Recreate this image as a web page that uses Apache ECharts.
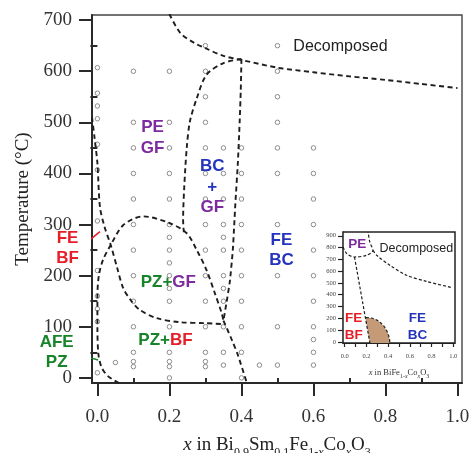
<!DOCTYPE html>
<html>
<head>
<meta charset="utf-8">
<script src="https://cdn.jsdelivr.net/npm/echarts@6/dist/echarts.min.js"></script>
<style>
  html, body { margin: 0; padding: 0; background: #fff; }
  #chart { width: 469px; height: 453px; }
</style>
</head>
<body>
<div id="chart"></div>
<script>
// measured compositions (x) and the temperatures checked at each one
var colX = [0, 0.05, 0.1, 0.2, 0.3, 0.35, 0.4, 0.45, 0.5, 0.6];
var colTemps = [
    [607, 557, 532, 507, 457, 407, 307, 210, 160, 135, 110, 10],
    [30],
    [600, 500, 450, 400, 350, 300, 250, 200, 150, 100, 50, 32, 22],
    [600, 500, 450, 400, 350, 300, 275, 250, 225, 200, 175, 150, 100, 50, 32, 22, 0],
    [650, 600, 550, 500, 450, 400, 350, 300, 250, 200, 150, 100, 50, 32, 22],
    [450, 400, 350, 300, 275, 250, 200, 175, 150, 100, 50, 25],
    [450, 400, 350, 300, 250, 200, 150, 100, 50, 0],
    [25],
    [650, 600, 550, 500, 450, 400, 300, 200, 100, 25],
    [450, 400, 350, 300, 250, 200, 150, 100, 75, 50, 25]
];

// phase boundaries (dashed)
var decompX = [0.2, 0.23, 0.27, 0.3, 0.35, 0.4, 0.5, 0.6, 0.7, 0.8, 0.9, 1.0];
var decompY = [712, 675, 655, 645, 630, 622, 607, 598, 590, 583, 575, 567];
var bcLeftX = [0.4, 0.35, 0.303, 0.276, 0.257, 0.248, 0.241, 0.238, 0.24];
var bcLeftY = [624, 616, 593, 547, 502, 449, 371, 309, 285];
var bcRightX = [0.4, 0.398, 0.395, 0.39, 0.383, 0.38, 0.376, 0.368, 0.358, 0.35];
var bcRightY = [624, 560, 500, 420, 340, 300, 250, 190, 145, 112];
var feEdgeX = [-0.015, -0.008, 0, 0.007, 0.02, 0.037, 0.055, 0.072, 0.095, 0.118, 0.164, 0.229, 0.3, 0.35];
var feEdgeY = [510, 470, 420, 335, 295, 260, 215, 175, 150, 133, 117, 109, 107, 105];
var domeX = [0.06, 0.03, 0.012, 0.003, 0, 0, 0.004, 0.015, 0.037, 0.072, 0.127, 0.2, 0.248, 0.276, 0.303, 0.326, 0.345, 0.35];
var domeY = [-10, 3, 20, 45, 100, 160, 200, 230, 260, 299, 316, 303, 283, 250, 211, 166, 127, 112];
var tailX = [0.35, 0.37, 0.39, 0.415];
var tailY = [112, 80, 45, -10];

// leader lines for the labels outside the frame
var feLeadX = [-0.044, 0.007];
var feLeadY = [257, 286];
var afeLeadX = [-0.0625, 0.002];
var afeLeadY = [48, 35];

// ticks
var xMajor = [0, 0.2, 0.4, 0.6, 0.8, 1.0];
var xMinor = [0.1, 0.3, 0.5, 0.7, 0.9];
var yMajor = [0, 100, 200, 300, 400, 500, 600, 700];
var yMinor = [50, 150, 250, 350, 450, 550, 650];

// inset: BiFe1-xCoxO3
var inPeX = [-0.016, 0.02, 0.09, 0.2, 0.26, 0.231, 0.215];
var inPeY = [805, 748, 720, 734, 776, 847, 932];
var inDecX = [0.26, 0.3, 0.415, 0.57, 0.755, 0.985];
var inDecY = [776, 730, 650, 565, 512, 461];
var inFeX = [0.09, 0.232];
var inFeY = [720, -10];
var inArcX = [0.195, 0.24, 0.29, 0.33, 0.365, 0.39, 0.405, 0.413, 0.415];
var inArcY = [206, 202, 188, 163, 128, 88, 50, 20, -10];
var inXTicks = [0, 0.1, 0.2, 0.3, 0.4, 0.5, 0.6, 0.7, 0.8, 0.9, 1.0];
var inXLabels = [0, 0.2, 0.4, 0.6, 0.8, 1.0];
var inYTicks = [0, 100, 200, 300, 400, 500, 600, 700, 800, 900];

// region labels
var mainLabels = [
    {at: [0.675, 648], text: '{k|Decomposed}'},
    {at: [0.153, 470], text: '{p|PE}\n{p|GF}'},
    {at: [0.319, 373], text: '{b|BC}\n{b|+}\n{p|GF}'},
    {at: [0.511, 250], text: '{b|FE}\n{b|BC}'},
    {at: [0.197, 187], text: '{g|PZ+}{p|GF}'},
    {at: [0.189, 73], text: '{g|PZ+}{r|BF}'},
    {at: [-0.083, 254], text: '{r|FE}\n{r|BF}'},
    {at: [-0.113, 50], text: '{g|AFE}\n{g|PZ}'}
];
var insetLabels = [
    {at: [0.115, 824], text: '{p|PE}'},
    {at: [0.66, 790], text: '{k|Decomposed}'},
    {at: [0.083, 128], text: '{r|FE}\n{r|BF}'},
    {at: [0.67, 128], text: '{b|FE}\n{b|BC}'}
];

var serif = 'Liberation Serif', sans = 'Liberation Sans';
var purple = '#7d2a9e', blue = '#2434bd', green = '#17842a', red = '#e61e28', ink = '#1e1e1e';

function xy(xs, ys) {
    return xs.map(function (x, i) { return [x, ys[i]]; });
}

var points = [];
colX.forEach(function (x, i) {
    colTemps[i].forEach(function (t) { points.push([x, t]); });
});

function dashed(xs, ys, axis, opt) {
    opt = opt || {};
    return {
        type: 'line',
        xAxisIndex: axis === 1 ? 2 : 0,
        yAxisIndex: axis === 1 ? 2 : 0,
        data: xy(xs, ys),
        symbol: 'none',
        smooth: opt.smooth === undefined ? 0.3 : opt.smooth,
        clip: opt.clip === undefined ? true : opt.clip,
        silent: true,
        z: 4,
        lineStyle: {
            color: opt.color || ink,
            width: opt.width || 1.9,
            type: opt.type || [5, 3.5],
            opacity: 1
        }
    };
}

function richSet(size, lh) {
    function s(c, extra) {
        var o = {color: c, fontFamily: sans, fontWeight: 'bold', fontSize: size, lineHeight: lh, opacity: 1};
        for (var k in extra) o[k] = extra[k];
        return o;
    }
    return {
        p: s(purple), b: s(blue), g: s(green), r: s(red),
        k: s('#222', {fontWeight: 'normal', fontSize: size - 1})
    };
}

function labelSeries(list, axis, size, lh) {
    return {
        type: 'scatter',
        xAxisIndex: axis === 1 ? 2 : 0,
        yAxisIndex: axis === 1 ? 2 : 0,
        symbolSize: 1,
        clip: false,
        silent: true,
        z: 6,
        itemStyle: {color: 'rgba(0,0,0,0)', opacity: 1},
        label: {
            show: true,
            position: 'inside',
            opacity: 1,
            textBorderWidth: 0,
            formatter: function (p) { return list[p.dataIndex].text; },
            rich: richSet(size, lh)
        },
        data: list.map(function (d) { return d.at; })
    };
}

var chart = echarts.init(document.getElementById('chart'));

var axisColor = '#2a2a2a';
var option = {
    animation: false,
    backgroundColor: '#fff',
    grid: [
        {left: 92, top: 15, right: 7, bottom: 70, outerBoundsMode: 'none', containLabel: false,
            show: true, borderColor: '#444', borderWidth: 1.4},
        {left: 343, top: 232, width: 112, height: 111, outerBoundsMode: 'none', containLabel: false,
            show: true, backgroundColor: '#fff', borderColor: '#222', borderWidth: 1.5, z: 5}
    ],
    xAxis: [
        {
            type: 'value', gridIndex: 0, position: 'bottom', min: -0.015, max: 1.0125,
            splitLine: {show: false},
            axisLine: {onZero: false, lineStyle: {color: axisColor, width: 2}},
            axisTick: {customValues: xMajor, length: 13, lineStyle: {color: axisColor, width: 2}},
            axisLabel: {
                customValues: xMajor, margin: 25, fontFamily: serif, fontSize: 19, color: '#333',
                formatter: function (v) { return v.toFixed(1); }
            },
            name: '{i|x} in Bi{s|0.9}Sm{s|0.1}Fe{s|1-}{si|x}Co{si|x}O{s|3}',
            nameLocation: 'middle',
            nameGap: 45,
            nameTextStyle: {
                fontFamily: serif, fontSize: 19, color: '#222', lineHeight: 27,
                rich: {
                    i: {fontFamily: serif, fontStyle: 'italic', fontSize: 19, lineHeight: 27, color: '#222'},
                    s: {fontFamily: serif, fontSize: 12, lineHeight: 11, verticalAlign: 'bottom', color: '#222'},
                    si: {fontFamily: serif, fontStyle: 'italic', fontSize: 12, lineHeight: 11, verticalAlign: 'bottom', color: '#222'}
                }
            }
        },
        {
            type: 'value', gridIndex: 0, position: 'bottom', min: -0.015, max: 1.0125,
            splitLine: {show: false},
            axisLine: {show: false},
            axisTick: {customValues: xMinor, length: 6, lineStyle: {color: axisColor, width: 2}},
            axisLabel: {show: false}
        },
        {
            type: 'value', gridIndex: 1, position: 'bottom', min: -0.016, max: 1.016,
            splitLine: {show: false},
            axisLine: {onZero: false, lineStyle: {color: '#222', width: 1.2}},
            axisTick: {customValues: inXTicks, length: 4, lineStyle: {color: '#222', width: 1.2}},
            axisLabel: {
                customValues: inXLabels, margin: 10, fontFamily: serif, fontSize: 6.5, color: '#444',
                formatter: function (v) { return v.toFixed(1); }
            },
            name: '{i|x} in BiFe{s|1-}{si|x}Co{si|x}O{s|3}',
            nameLocation: 'middle',
            nameGap: 24,
            nameTextStyle: {
                fontFamily: serif, fontSize: 8.5, color: '#333', lineHeight: 12,
                rich: {
                    i: {fontFamily: serif, fontStyle: 'italic', fontSize: 8.5, lineHeight: 12, color: '#333'},
                    s: {fontFamily: serif, fontSize: 6, lineHeight: 5, verticalAlign: 'bottom', color: '#333'},
                    si: {fontFamily: serif, fontStyle: 'italic', fontSize: 6, lineHeight: 5, verticalAlign: 'bottom', color: '#333'}
                }
            }
        }
    ],
    yAxis: [
        {
            type: 'value', gridIndex: 0, position: 'left', min: -10, max: 710,
            splitLine: {show: false},
            axisLine: {onZero: false, lineStyle: {color: axisColor, width: 2}},
            axisTick: {customValues: yMajor, length: 13, lineStyle: {color: axisColor, width: 2}},
            axisLabel: {customValues: yMajor, margin: 20, fontFamily: serif, fontSize: 19, color: '#333'},
            name: 'Temperature (°C)',
            nameLocation: 'middle',
            nameGap: 59,
            nameTextStyle: {fontFamily: serif, fontSize: 19, color: '#222'}
        },
        {
            type: 'value', gridIndex: 0, position: 'left', min: -10, max: 710,
            splitLine: {show: false},
            axisLine: {show: false},
            axisTick: {customValues: yMinor, length: 7, lineStyle: {color: axisColor, width: 2}},
            axisLabel: {show: false}
        },
        {
            type: 'value', gridIndex: 1, position: 'left', min: -10, max: 932,
            splitLine: {show: false},
            axisLine: {onZero: false, lineStyle: {color: '#222', width: 1.2}},
            axisTick: {customValues: inYTicks, length: 5, lineStyle: {color: '#222', width: 1.2}},
            axisLabel: {customValues: inYTicks, margin: 7, fontFamily: serif, fontSize: 6.5, color: '#444'}
        }
    ],
    series: [
        {
            type: 'scatter',
            xAxisIndex: 0, yAxisIndex: 0,
            symbol: 'circle',
            symbolSize: 4.5,
            silent: true,
            z: 3,
            itemStyle: {color: '#fff', borderColor: '#8c8c8c', borderWidth: 1, opacity: 1},
            data: points
        },
        dashed(decompX, decompY, 0),
        dashed(bcLeftX, bcLeftY, 0),
        dashed(bcRightX, bcRightY, 0, {smooth: 0.2}),
        dashed(feEdgeX, feEdgeY, 0, {clip: false}),
        dashed(domeX, domeY, 0),
        dashed(tailX, tailY, 0, {smooth: 0.2}),
        dashed(feLeadX, feLeadY, 0, {clip: false, color: red, width: 1.6, type: 'solid', smooth: false}),
        dashed(afeLeadX, afeLeadY, 0, {clip: false, color: green, width: 1.6, type: 'solid', smooth: false}),
        labelSeries(mainLabels, 0, 17, 20.5),
        {
            type: 'custom',
            xAxisIndex: 2, yAxisIndex: 2,
            silent: true,
            z: 6,
            renderItem: function (params, api) {
                if (params.dataIndex !== 0) return;
                var pts = inArcX.map(function (x, i) { return api.coord([x, inArcY[i]]); });
                pts.push(api.coord([inFeX[1], inFeY[1]]));
                pts.push(api.coord([0.19, 206]));
                return {type: 'polygon', shape: {points: pts}, style: {fill: '#c59b77'}};
            },
            data: xy(inArcX, inArcY)
        },
        Object.assign(dashed(inPeX, inPeY, 1, {width: 1.2, type: [3, 2]}), {z: 7}),
        Object.assign(dashed(inDecX, inDecY, 1, {width: 1.2, type: [3, 2]}), {z: 7}),
        Object.assign(dashed(inFeX, inFeY, 1, {width: 1.2, type: [3, 2], smooth: false}), {z: 7}),
        Object.assign(dashed(inArcX, inArcY, 1, {width: 1.2, type: [3, 2]}), {z: 7}),
        Object.assign(labelSeries(insetLabels, 1, 13.5, 17), {z: 8})
    ]
};

chart.setOption(option);
</script>
</body>
</html>
